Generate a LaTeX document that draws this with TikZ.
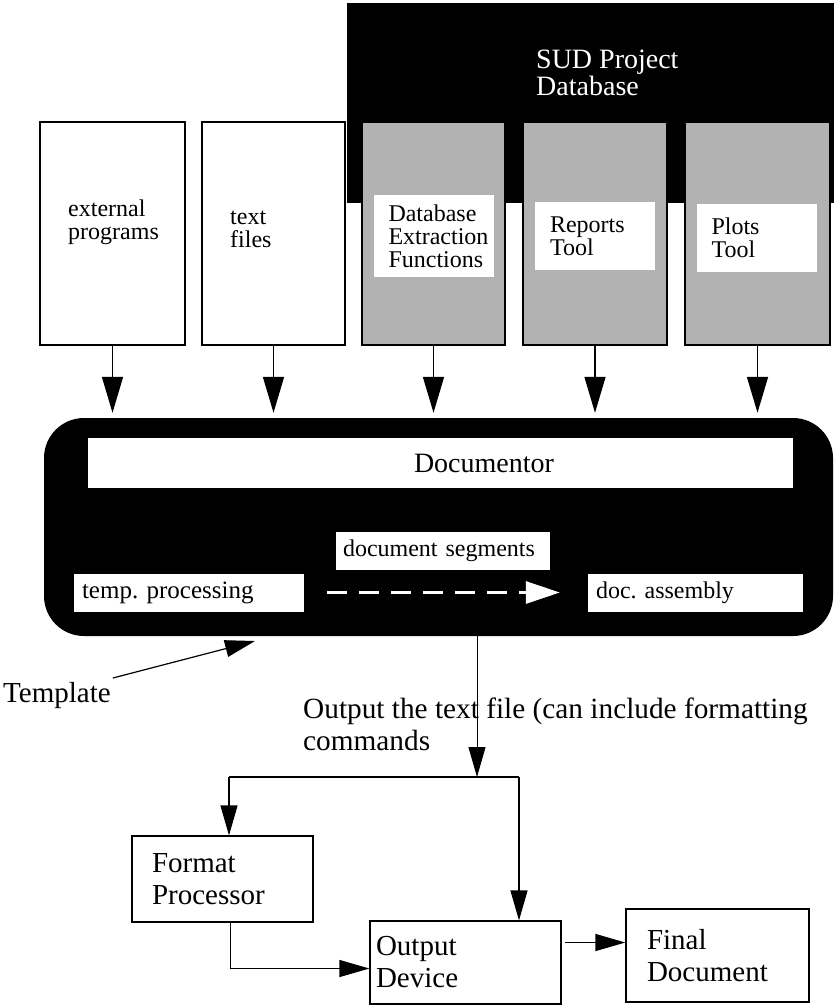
\documentclass[tikz,border=0pt]{standalone}
\usepackage{fontspec}
\setmainfont{Liberation Serif}
\usetikzlibrary{arrows.meta}
\frenchspacing
\newcommand{\tightlines}{\setlength{\lineskiplimit}{-100pt}}
\newcommand{\lblfont}{\fontsize{24}{23}\selectfont\tightlines}
\newcommand{\bigfont}{\fontsize{29}{32}\selectfont\tightlines}
\newcommand{\dbfont}{\fontsize{28}{27}\selectfont\tightlines}
\tikzstyle{srcbox}=[draw=black, line width=1.5pt, minimum width=145pt, minimum height=223pt, inner sep=0pt]
\tikzstyle{toolbox}=[srcbox, fill=black!30]
\tikzstyle{tag}=[fill=white, align=left, text width=90pt, inner xsep=15pt, inner ysep=0pt, font=\lblfont]
\tikzstyle{srclbl}=[align=left, inner sep=0pt, anchor=north west, font=\lblfont]
\tikzstyle{seg}=[fill=white, align=left, minimum height=38pt, inner xsep=8pt, inner ysep=0pt, font=\lblfont]
\tikzstyle{feed}=[draw=black, line width=1.5pt, -{Triangle[length=36pt,width=21pt]}]
\tikzstyle{flow}=[draw=black, line width=1.2pt, -{Triangle[length=30pt,width=17pt]}]
\tikzstyle{outbox}=[draw=black, line width=1.2pt, align=left, inner ysep=0pt, font=\bigfont]

\begin{document}
\begin{tikzpicture}[x=1pt, y=-1pt]
  \useasboundingbox (0,0) rectangle (834,1005);

  % project database
  \node (db) [fill=black, minimum width=487pt, minimum height=200pt, inner sep=0pt] at (590.5,103) {};
  \node (dblbl) [anchor=north west, align=left, inner sep=0pt, text=white, font=\dbfont]
        at (536,50) {SUD Project\\Database};

  % sources
  \node (ext) [style=srcbox] at (112.5,233.5) {};
  \node (txt) [style=srcbox, minimum width=143pt] at (273.5,233.5) {};
  \node (dbx) [style=toolbox, minimum width=143pt] at (433.5,233.5) {};
  \node (rep) [style=toolbox, minimum width=144pt] at (595,233.5) {};
  \node (plt) [style=toolbox] at (757.5,233.5) {};
  \node (extlbl) [style=srclbl] at (68,200) {external\\programs};
  \node (txtlbl) [style=srclbl] at (230,211) {text\\files};
  \node (dbxtag) [style=tag, minimum height=82pt] at (433.5,236) {Database\\Extraction\\Functions};
  \node (reptag) [style=tag, minimum height=68pt] at (595,236) {Reports\\Tool};
  \node (plttag) [style=tag, minimum height=68pt] at (756.5,238) {Plots\\Tool};

  % documentor
  \node (docr) [fill=black, rounded corners=40pt, minimum width=789pt, minimum height=218pt] at (438.5,527) {};
  \node (docbar) [fill=white, minimum width=705pt, minimum height=50pt, inner sep=0pt] at (440.5,463) {};
  \node (docname) [font=\fontsize{28}{30}\selectfont, inner sep=0pt] at (484,463) {Documentor};
  \node (docseg) [style=seg, text width=200pt, inner xsep=7pt] at (443,551) {document segments};
  \node (tmp) [style=seg, text width=214pt, font=\fontsize{25}{26}\selectfont] at (189,592.5) {temp. processing};
  \node (asm) [style=seg, text width=199pt] at (695.5,592.5) {doc. assembly};
  \draw [white, line width=3pt, dash pattern=on 20pt off 12pt,
         -{Triangle[length=34pt,width=22pt]}, shorten <=23pt, shorten >=28pt] (tmp.east) -- (asm.west);

  \draw [style=feed, shorten >=5pt] (ext.south) -- (ext.south |- docr.north);
  \draw [style=feed, shorten >=5pt] (txt.south) -- (txt.south |- docr.north);
  \draw [style=feed, shorten >=5pt] (dbx.south) -- (dbx.south |- docr.north);
  \draw [style=feed, shorten >=5pt] (rep.south) -- (rep.south |- docr.north);
  \draw [style=feed, shorten >=5pt] (plt.south) -- (plt.south |- docr.north);

  % template and output
  \node (tmpl) [anchor=north west, inner sep=0pt, font=\bigfont] at (3,682) {Template};
  \coordinate (tin) at (255,641);
  \draw [style=flow] ([shift={(2pt,4pt)}]tmpl.north east) -- (tin);

  \node (outlbl) [anchor=north west, align=left, inner sep=0pt, font=\fontsize{29.3}{32}\selectfont]
        at (303,698) {Output the text file (can include formatting\\commands};
  \coordinate (split) at (477,777);
  \coordinate (bl) at (229,777);
  \coordinate (br) at (519,777);
  \draw [style=flow, line width=1pt] (docr.south -| split) -- (split);

  % output chain
  \node (fmt) [style=outbox, text width=141pt, inner xsep=20pt, minimum height=86pt] at (222.5,879) {Format\\Processor};
  \node (dev) [style=outbox, text width=179pt, inner xsep=6pt, minimum height=83pt] at (465.5,962.5) {Output\\Device};
  \node (fin) [style=outbox, text width=141pt, inner xsep=21pt, minimum height=93pt] at (717.5,955.5) {Final\\Document};

  \draw [line width=1.2pt] (bl) -- (br);
  \draw [style=flow] (bl) -- (bl |- fmt.north);
  \draw [style=flow] (br) -- (br |- dev.north);
  \draw [style=flow] ([xshift=8pt]fmt.south) |- ([yshift=-6pt]dev.west);
  \draw [style=flow] ([xshift=3pt,yshift=20pt]dev.east) -- ([yshift=20pt]dev.east -| fin.west);

\end{tikzpicture}
\end{document}
